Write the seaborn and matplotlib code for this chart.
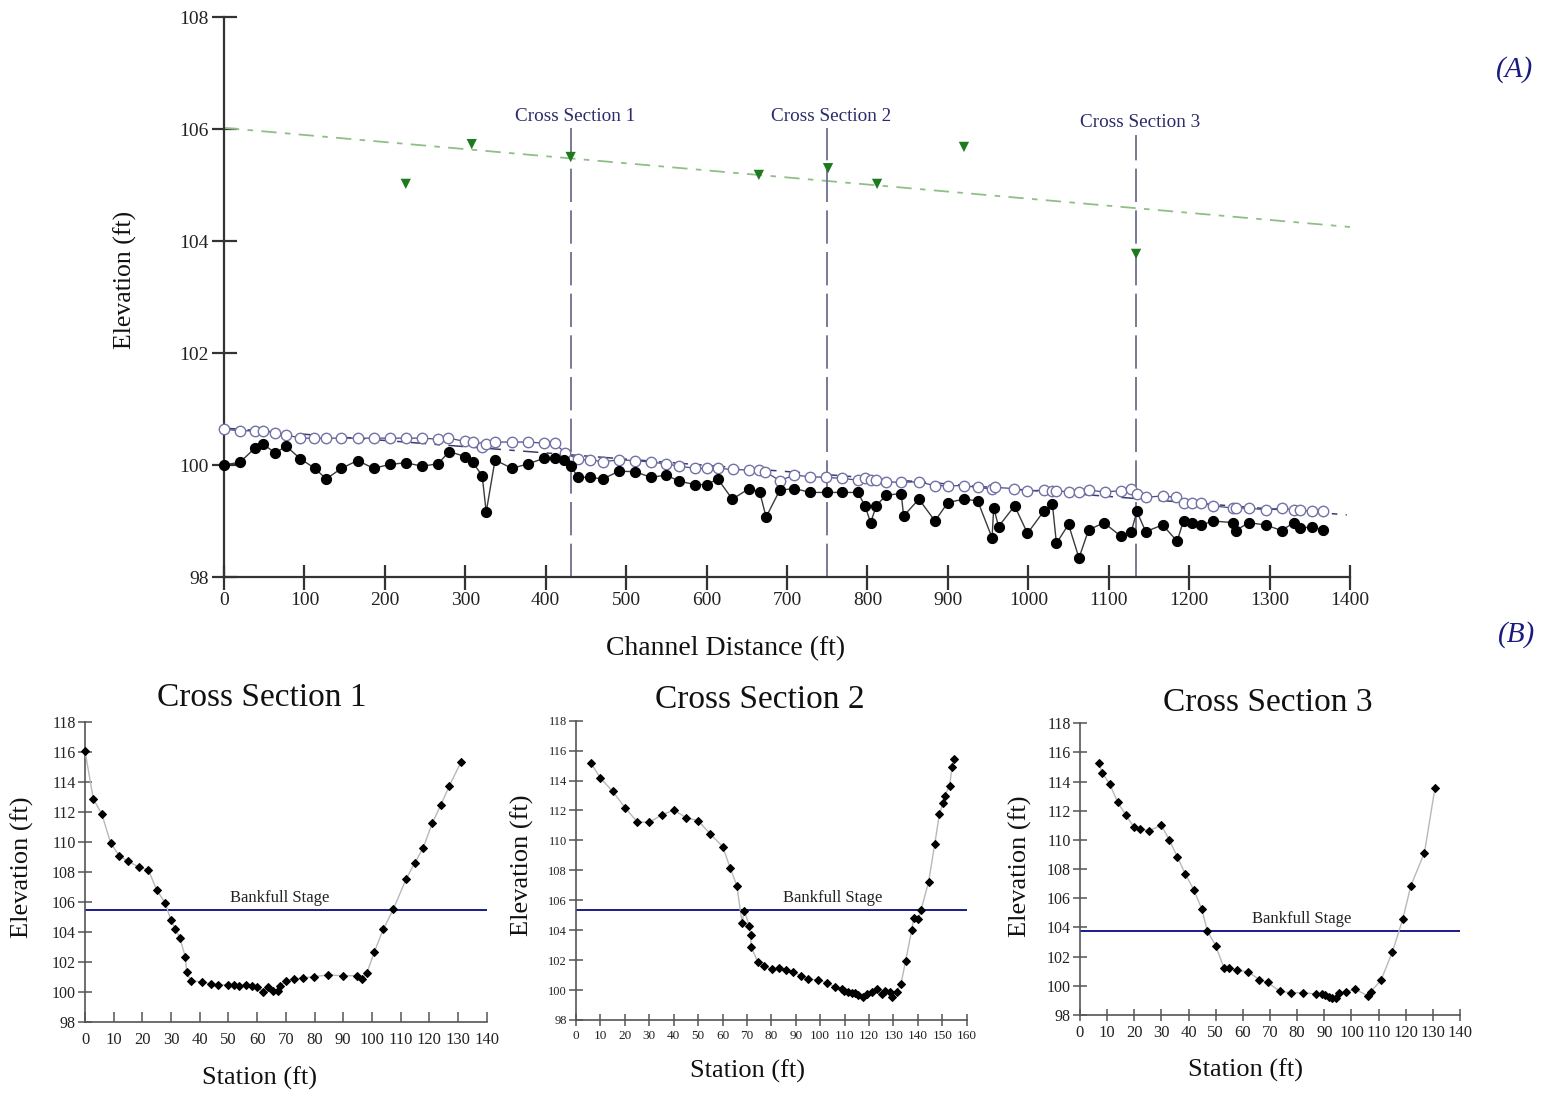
import matplotlib
matplotlib.use("Agg")
import matplotlib.pyplot as plt
import seaborn as sns
import pandas as pd

sns.set_theme(style="ticks")
plt.rcParams["font.family"] = ["Liberation Serif", "DejaVu Serif"]
plt.rcParams["lines.scale_dashes"] = False

# ---------------- Longitudinal profile data (A) ----------------
bed_dist = [0, 20, 39, 48, 64, 77, 95, 113, 127, 146, 166, 186, 206, 226, 246, 266, 280, 300,
            309, 321, 326, 337, 358, 378, 398, 411, 423, 431, 440, 455, 471, 491, 511, 531,
            550, 566, 586, 600, 614, 632, 653, 666, 674, 691, 709, 729, 750, 769, 788, 797,
            804, 811, 823, 842, 845, 864, 884, 900, 920, 937, 955, 957, 963, 983, 999, 1019,
            1030, 1035, 1050, 1063, 1075, 1094, 1115, 1128, 1135, 1146, 1167, 1185, 1193,
            1204, 1215, 1230, 1255, 1258, 1274, 1295, 1315, 1330, 1338, 1353, 1366]
bed_elev = [100.00, 100.05, 100.31, 100.38, 100.21, 100.34, 100.11, 99.94, 99.75, 99.94,
            100.08, 99.94, 100.01, 100.04, 99.98, 100.02, 100.24, 100.15, 100.05, 99.81,
            99.16, 100.09, 99.94, 100.02, 100.12, 100.12, 100.09, 99.99, 99.78, 99.78, 99.75,
            99.89, 99.88, 99.78, 99.82, 99.71, 99.65, 99.65, 99.75, 99.39, 99.58, 99.52,
            99.07, 99.55, 99.58, 99.51, 99.51, 99.51, 99.51, 99.27, 98.97, 99.27, 99.46,
            99.49, 99.09, 99.39, 99.00, 99.33, 99.39, 99.36, 98.70, 99.24, 98.90, 99.27,
            98.78, 99.17, 99.30, 98.60, 98.94, 98.34, 98.84, 98.97, 98.73, 98.81, 99.17,
            98.81, 98.93, 98.64, 99.00, 98.97, 98.93, 99.00, 98.97, 98.83, 98.97, 98.93,
            98.83, 98.97, 98.87, 98.90, 98.84]

wse_dist = [0, 20, 38, 48, 64, 77, 95, 112, 127, 146, 166, 186, 206, 226, 246, 266, 279, 300,
            309, 321, 326, 337, 358, 378, 398, 411, 424, 440, 455, 471, 491, 511, 531, 550,
            566, 586, 600, 614, 633, 653, 665, 673, 691, 709, 729, 749, 769, 788, 797, 804,
            811, 823, 842, 864, 884, 900, 920, 937, 955, 958, 982, 999, 1019, 1030, 1035,
            1050, 1063, 1075, 1095, 1115, 1128, 1135, 1146, 1167, 1184, 1193, 1204, 1215,
            1230, 1255, 1258, 1274, 1295, 1315, 1330, 1338, 1353, 1366]
wse_elev = [100.64, 100.61, 100.61, 100.61, 100.58, 100.54, 100.48, 100.48, 100.48, 100.48,
            100.48, 100.48, 100.48, 100.48, 100.48, 100.46, 100.48, 100.42, 100.41, 100.32,
            100.37, 100.41, 100.41, 100.41, 100.39, 100.39, 100.22, 100.10, 100.09, 100.06,
            100.09, 100.08, 100.05, 100.02, 99.98, 99.94, 99.94, 99.94, 99.92, 99.91, 99.91,
            99.88, 99.72, 99.82, 99.79, 99.78, 99.76, 99.73, 99.76, 99.73, 99.73, 99.70,
            99.69, 99.70, 99.63, 99.63, 99.63, 99.60, 99.57, 99.60, 99.58, 99.54, 99.55,
            99.54, 99.54, 99.52, 99.52, 99.55, 99.52, 99.54, 99.57, 99.48, 99.42, 99.45,
            99.42, 99.33, 99.33, 99.33, 99.27, 99.23, 99.23, 99.23, 99.20, 99.23, 99.20,
            99.20, 99.17, 99.17]

bankfull_dist = [226, 308, 431, 665, 751, 812, 920, 1134]
bankfull_elev = [105.02, 105.73, 105.50, 105.18, 105.30, 105.02, 105.68, 103.77]

bankfull_trend_dist = [0, 1400]
bankfull_trend_elev = [106.02, 104.25]
wse_trend_dist = [0, 1396]
wse_trend_elev = [100.66, 99.11]

section_names = ["Cross Section 1", "Cross Section 2", "Cross Section 3"]
section_dist = [431, 750, 1134]

# ---------------- Cross section data (B) ----------------
xs1_station = [0, 2.9, 5.9, 8.9, 11.9, 14.9, 18.9, 22.1, 25.0, 28.0, 29.9, 31.5, 33.1, 35.0,
               35.4, 36.9, 40.9, 43.9, 46.5, 50.0, 51.9, 53.8, 56.0, 58.1, 60.1, 61.9, 63.9,
               65.4, 67.2, 68.0, 69.9, 73.0, 75.9, 79.9, 84.8, 89.8, 94.9, 96.4, 98.2, 100.8,
               104.0, 107.5, 111.9, 115.0, 117.9, 121.1, 124.0, 127.0, 131.1]
xs1_elev = [116.05, 112.86, 111.84, 109.95, 109.09, 108.73, 108.31, 108.13, 106.80, 105.92,
            104.81, 104.21, 103.59, 102.32, 101.33, 100.77, 100.68, 100.55, 100.51, 100.48,
            100.48, 100.44, 100.46, 100.44, 100.37, 100.04, 100.37, 100.08, 100.11, 100.42,
            100.75, 100.90, 100.95, 101.04, 101.15, 101.10, 101.10, 100.86, 101.26, 102.66,
            104.21, 105.54, 107.53, 108.62, 109.62, 111.28, 112.46, 113.74, 115.34]

xs2_station = [6.0, 10.0, 15.0, 20.1, 25.1, 30.0, 35.1, 40.0, 45.1, 50.0, 55.0, 60.1, 63.1,
               65.9, 68.0, 68.9, 71.0, 71.5, 71.7, 74.4, 77.0, 80.1, 83.0, 86.0, 89.0, 92.0,
               95.2, 99.0, 102.9, 106.2, 108.9, 109.9, 111.5, 112.9, 114.3, 115.6, 117.4,
               119.0, 121.1, 123.1, 125.2, 126.6, 128.6, 129.6, 131.3, 133.1, 135.0, 137.5,
               138.3, 140.2, 141.3, 144.4, 146.9, 148.8, 150.4, 151.0, 153.0, 154.0, 154.9]
xs2_elev = [115.19, 114.17, 113.28, 112.19, 111.23, 111.21, 111.70, 112.03, 111.52, 111.32,
            110.43, 109.58, 108.18, 106.95, 104.50, 105.31, 104.28, 103.68, 102.90, 101.90,
            101.59, 101.39, 101.45, 101.34, 101.21, 100.96, 100.76, 100.65, 100.49, 100.18,
            100.07, 99.94, 99.85, 99.83, 99.78, 99.69, 99.51, 99.71, 99.89, 100.05, 99.76,
            99.94, 99.89, 99.51, 99.89, 100.41, 101.96, 104.01, 104.82, 104.73, 105.35,
            107.24, 109.74, 111.76, 112.52, 112.97, 113.66, 114.88, 115.44]

xs3_station = [7.0, 8.1, 10.9, 13.9, 16.9, 19.9, 22.0, 25.5, 30.0, 32.9, 35.9, 38.8, 41.9,
               44.9, 46.9, 50.0, 53.1, 55.0, 58.0, 62.0, 66.1, 69.1, 73.7, 77.6, 82.0, 86.9,
               89.0, 90.3, 91.7, 93.0, 94.3, 95.5, 98.0, 101.4, 106.2, 107.1, 110.9, 115.1,
               118.9, 121.9, 126.9, 130.8]
xs3_elev = [115.30, 114.62, 113.86, 112.58, 111.71, 110.87, 110.75, 110.64, 111.01, 110.00,
            108.83, 107.67, 106.59, 105.25, 103.76, 102.75, 101.20, 101.25, 101.06, 100.95,
            100.42, 100.24, 99.62, 99.53, 99.53, 99.44, 99.44, 99.35, 99.26, 99.14, 99.14,
            99.49, 99.60, 99.76, 99.30, 99.60, 100.38, 102.34, 104.56, 106.87, 109.13, 113.59]

xs_bankfull = [105.5, 105.35, 103.78]
xs_label_station = [68.0, 105.2, 81.8]
xs_station_max = [140, 160, 140]

# ---------------- Figure ----------------
fig = plt.figure(figsize=(15.49, 10.93), dpi=100)
fig.patch.set_facecolor("white")

NAVY_TXT = "#2b2b6b"
AXC = "#333333"

# ---- Panel A ----
axA = fig.add_axes([224 / 1549, 1 - 577 / 1093, 1126 / 1549, 560 / 1093])
axA.set_facecolor("white")

sns.lineplot(x=bankfull_trend_dist, y=bankfull_trend_elev, ax=axA, color="#8fbf86", lw=1.3,
             linestyle=(0, (11, 6, 4, 6)))
sns.lineplot(x=wse_trend_dist, y=wse_trend_elev, ax=axA, color="#3c3c6e", lw=1.1,
             linestyle=(0, (11, 6, 4, 6)))

for name, d in zip(section_names, section_dist):
    is3 = name == "Cross Section 3"
    axA.plot([d, d], [98, 105.9 if is3 else 106.02],
             color="#6e6e8e", lw=1.3, linestyle=(0, (24, 6)), zorder=2)
    axA.text(d + 5, 106.12 if is3 else 106.23, name,
             ha="center", va="center", fontsize=13.8, color=NAVY_TXT)

sns.lineplot(x=wse_dist, y=wse_elev, ax=axA, sort=False, estimator=None, color="#4a4a80",
             lw=0.9, marker="o", markersize=7.5, markerfacecolor="white",
             markeredgecolor="#7272a6", markeredgewidth=1.0, clip_on=False, zorder=3)
sns.lineplot(x=bed_dist, y=bed_elev, ax=axA, sort=False, estimator=None, color="#3a3a3a",
             lw=1.0, marker="o", markersize=7.3, markerfacecolor="black",
             markeredgecolor="black", clip_on=False, zorder=4)
sns.scatterplot(x=bankfull_dist, y=bankfull_elev, ax=axA, marker="v", s=55,
                color="#1f7a1f", edgecolor="none", zorder=5)

axA.set_xlim(0, 1400)
axA.set_ylim(98, 108)
axA.set_xticks(range(0, 1401, 100))
axA.set_yticks(range(98, 109, 2))
sns.despine(ax=axA)
for s in ["left", "bottom"]:
    axA.spines[s].set_color(AXC)
    axA.spines[s].set_linewidth(1.6)
axA.tick_params(direction="inout", length=18, width=1.6, color=AXC, labelsize=14,
                labelcolor="#222222", pad=2)
axA.set_xlabel("Channel Distance (ft)", fontsize=20, color="#111111")
axA.set_ylabel("Elevation (ft)", fontsize=18.5, color="#111111")
axA.xaxis.label.set_va("center")
axA.yaxis.label.set_va("center")
axA.xaxis.set_label_coords(0.4458, -0.127)
axA.yaxis.set_label_coords(-0.088, 0.53)
axA.grid(False)

fig.text(1515 / 1549, 1 - 70 / 1093, "(A)", fontsize=21, style="italic", color="#1a1a80",
         ha="center", va="center")
fig.text(1517 / 1549, 1 - 635 / 1093, "(B)", fontsize=21, style="italic", color="#1a1a80",
         ha="center", va="center")

# ---- Panels B ----
panel_boxes = [
    [85, 486.7, 721.7, 1022.3],
    [576, 966.7, 720.7, 1020.0],
    [1080, 1460, 723.3, 1015.0],
]
stations = [xs1_station, xs2_station, xs3_station]
elevs = [xs1_elev, xs2_elev, xs3_elev]
tick_sizes = [11.5, 9, 11.5]
xtick_dir = ["in", "inout", "inout"]
xtick_pad = [7, 3, 3]
title_pos = [(262, 698), (760, 700), (1268, 703)]
ylab_pos = [(22, 867), (522, 865), (1020, 866)]
xlab_pos = [(260, 1078), (748, 1071), (1245, 1070)]

for i in range(3):
    l, r, t, b = panel_boxes[i]
    w, h = r - l, b - t
    ax = fig.add_axes([l / 1549, 1 - b / 1093, w / 1549, h / 1093])
    ax.set_facecolor("white")
    df = pd.DataFrame({"Station": stations[i], "Elevation": elevs[i]})
    sns.lineplot(data=df, x="Station", y="Elevation", ax=ax, sort=False, estimator=None,
                 color="#b8b8b8", lw=1.0, marker="D", markersize=4.2,
                 markerfacecolor="black", markeredgecolor="black", clip_on=False, zorder=3)
    ax.axhline(xs_bankfull[i], color="#1a1a8c", lw=1.4, zorder=2)
    ax.text(xs_label_station[i], xs_bankfull[i] + 0.8, "Bankfull Stage", ha="center",
            va="center", fontsize=12, color="#222222")
    ax.set_xlim(0, xs_station_max[i])
    ax.set_ylim(98, 118)
    ax.set_xticks(range(0, xs_station_max[i] + 1, 10))
    ax.set_yticks(range(98, 119, 2))
    sns.despine(ax=ax)
    for s in ["left", "bottom"]:
        ax.spines[s].set_color("#555555")
        ax.spines[s].set_linewidth(1.2)
    ax.tick_params(axis="y", direction="inout", length=10, width=1.1, color="#555555",
                   labelsize=tick_sizes[i], labelcolor="#222222", pad=1.5)
    ax.tick_params(axis="x", direction=xtick_dir[i], length=7 if xtick_dir[i] == "in" else 8,
                   width=1.1, color="#555555", labelsize=tick_sizes[i] + 0.5,
                   labelcolor="#222222", pad=xtick_pad[i])
    ax.set_xlabel("Station (ft)", fontsize=19, color="#111111")
    ax.set_ylabel("Elevation (ft)", fontsize=19, color="#111111")
    ax.xaxis.label.set_va("center")
    ax.yaxis.label.set_va("center")
    ax.xaxis.set_label_coords((xlab_pos[i][0] - l) / w, (b - xlab_pos[i][1]) / h)
    ax.yaxis.set_label_coords((ylab_pos[i][0] - l) / w, (b - ylab_pos[i][1]) / h)
    ax.set_title(section_names[i], fontsize=24, color="#111111", pad=0,
                 x=(title_pos[i][0] - l) / w, y=(b - title_pos[i][1]) / h, va="center")
    ax.grid(False)

fig.savefig("out.png", dpi=100, facecolor="white")
